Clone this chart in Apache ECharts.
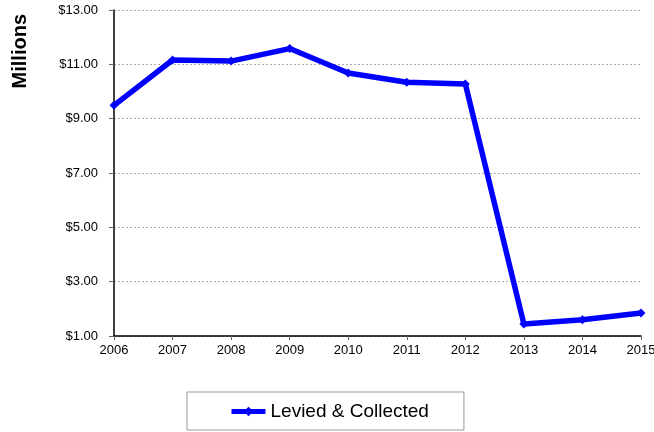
<!DOCTYPE html>
<html>
<head>
<meta charset="utf-8">
<script src="https://cdn.jsdelivr.net/npm/echarts@6/dist/echarts.min.js"></script>
<style>
  html, body { margin: 0; padding: 0; background: #fff; }
  #chart { width: 654px; height: 432px; }
</style>
</head>
<body>
<div id="chart"></div>
<script>
// Yearly amounts, in millions of dollars
const years = ['2006', '2007', '2008', '2009', '2010', '2011', '2012', '2013', '2014', '2015'];
const leviedCollected = [9.49, 11.16, 11.12, 11.58, 10.68, 10.34, 10.28, 1.44, 1.60, 1.85];
const seriesName = 'Levied & Collected';
const axisTitle = 'Millions';

const chart = echarts.init(document.getElementById('chart'), null, { renderer: 'canvas' });
const font = 'Arial, "Liberation Sans", sans-serif';

chart.setOption({
  animation: false,
  backgroundColor: '#fff',
  grid: { left: 114, right: 13, top: 10, bottom: 96, containLabel: false, outerBoundsMode: 'none' },
  xAxis: {
    type: 'category',
    data: years,
    boundaryGap: false,
    axisLine: { lineStyle: { color: '#000', width: 1.5 } },
    axisTick: { show: true, alignWithLabel: true, length: 4, lineStyle: { color: '#666' } },
    axisLabel: { color: '#000', fontSize: 13, fontFamily: font, margin: 8 },
    splitLine: { show: false }
  },
  yAxis: {
    type: 'value',
    min: 1,
    max: 13,
    interval: 2,
    axisLine: { show: true, lineStyle: { color: '#000', width: 1.5 } },
    axisTick: { show: true, length: 5, lineStyle: { color: '#666' } },
    axisLabel: {
      color: '#000', fontSize: 13, fontFamily: font, margin: 16,
      formatter: v => '$' + v.toFixed(2)
    },
    splitLine: { show: true, lineStyle: { color: '#aaa', width: 1, type: [2, 2] } }
  },
  legend: {
    data: [seriesName],
    left: 187,
    top: 392,
    orient: 'horizontal',
    itemWidth: 34,
    itemHeight: 12,
    padding: [10, 35, 9, 42],
    borderColor: '#999',
    borderWidth: 1,
    lineStyle: { width: 5 },
    textStyle: { color: '#000', fontSize: 19, fontFamily: font }
  },
  graphic: [{
    type: 'text',
    left: 10,
    top: 14,
    rotation: Math.PI / 2,
    style: {
      text: axisTitle,
      fill: '#000',
      font: 'bold 20px ' + font
    }
  }],
  series: [{
    name: seriesName,
    type: 'line',
    data: leviedCollected,
    symbol: 'diamond',
    symbolSize: 9,
    lineStyle: { color: '#0000ff', width: 5.5 },
    itemStyle: { color: '#0000ff' }
  }]
});
</script>
</body>
</html>
